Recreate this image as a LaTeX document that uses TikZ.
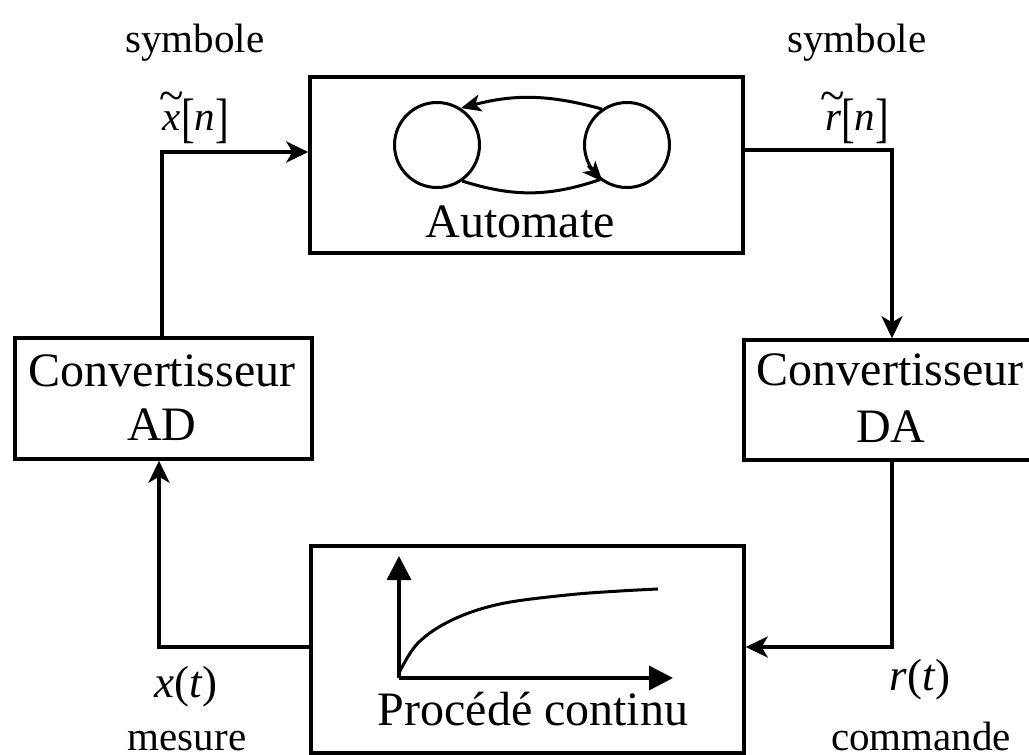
\documentclass[tikz,border=0pt]{standalone}
\usepackage{fontspec}
\setmainfont{Liberation Serif}
\newfontfamily\timesfont{Liberation Serif}
\usepackage{graphicx}
\usetikzlibrary{arrows.meta,calc}

\newcommand\boxfont{\timesfont\fontsize{48}{54}\selectfont}
\newcommand\lblfont{\timesfont\fontsize{41}{48}\selectfont}
\newcommand\sigfont{\timesfont\fontsize{45}{50}\selectfont}
\newcommand\lbr{\raisebox{-0.17em}{\scalebox{1}[1.32]{[}}}
\newcommand\rbr{\raisebox{-0.17em}{\scalebox{1}[1.32]{]}}}
% italic letter with a wide tilde above it
\newcommand\tilded[1]{\ooalign{\textit{#1}\cr\hidewidth\raisebox{0.44em}{\scalebox{1.1}[1.15]{\char`~}}\hidewidth\cr}}

\tikzset{
  block/.style={draw, line width=3.4pt, inner sep=0pt},
  flow/.style={line width=3.4pt, -{Stealth[length=22pt,width=21pt,inset=6pt]}},
  state/.style={draw, circle, line width=3pt, minimum size=85pt, inner sep=0pt},
  trans/.style={line width=3pt},
  transtip/.style={line width=3pt, -{Stealth[length=20pt,width=17pt,inset=5pt]}},
  axis/.style={line width=3.4pt, -{Triangle[length=24pt,width=24pt]}},
  lbl/.style={font=\lblfont, anchor=base, inner sep=0pt},
  sig/.style={font=\sigfont, anchor=base, inner sep=0pt},
  txt/.style={font=\boxfont, anchor=base, inner sep=0pt},
}

\begin{document}
\begin{tikzpicture}[x=1pt, y=-1pt]
\useasboundingbox (0,0) rectangle (1029,755);
\clip (0,0) rectangle (1029,755);

% blocks
\node[block, minimum width=433pt, minimum height=176pt] (auto) at (526.5,165) {};
\node[block, minimum width=297pt, minimum height=121pt] (AD) at (163.5,398.5) {};
\node[block, minimum width=300pt, minimum height=120pt] (DA) at (894,400) {};
\node[block, minimum width=433pt, minimum height=207pt] (proc) at (527.5,649.5) {};

% block captions
\node[txt] (autotxt) at (520,237) {Automate};
\node[txt] (adtxt1) at (162,386) {Convertisseur};
\node[txt] (adtxt2) at (162,440) {AD};
\node[txt] (datxt1) at (890,385) {Convertisseur};
\node[txt] (datxt2) at (891,442) {DA};
\node[txt] (proctxt) at (533,725) {Procédé continu};

% automaton states and transitions
\node[state] (s1) at (437,145) {};
\node[state] (s2) at (627,145) {};
\draw[transtip] (s2.125) to[bend right=15] (s1.57);
\draw[trans] (s1.-55) to[bend right=18] (s2.-128);
\draw[transtip] (s2.208) -- (s2.236);

% step response sketch
\coordinate (o) at (399,678);
\coordinate (ytop) at (399,556);
\coordinate (xend) at (673,678);
\draw[axis] (o) -- (ytop);
\draw[axis] (o) -- (xend);
\draw[line width=3pt] plot[smooth, tension=0.6] coordinates
  {(399,673) (418,643) (452,620) (500,604) (567,595) (620,591) (658,589)};

% signal paths
\coordinate (tl) at (162,152);
\coordinate (tr) at (892,150);
\coordinate (br) at (892,647);
\coordinate (bl) at (159,647);
\draw[flow] (AD.north -| tl) -- (tl) -- (tl -| auto.west);
\draw[flow] (auto.east |- tr) -- (tr) -- (tr |- DA.north);
\draw[flow] (DA.south -| br) -- (br) -- (br -| proc.east);
\draw[flow] (proc.west |- bl) -- (bl) -- (bl |- AD.south);

% signal labels
\node[lbl] (symx) at (195,52) {symbole};
\node[lbl] (xn) at (196,130) {\tilded{x}\lbr\textit{n}\rbr};
\node[lbl] (symr) at (857,52) {symbole};
\node[lbl] (rn) at (857,130) {\tilded{r}\lbr\textit{n}\rbr};
\node[sig] (xt) at (186,697) {\textit{x}(\textit{t})};
\node[lbl] (mes) at (187,750) {mesure};
\node[sig] (rt) at (920,690) {\textit{r}(\textit{t})};
\node[lbl] (cmd) at (921,750) {commande};
\end{tikzpicture}
\end{document}
